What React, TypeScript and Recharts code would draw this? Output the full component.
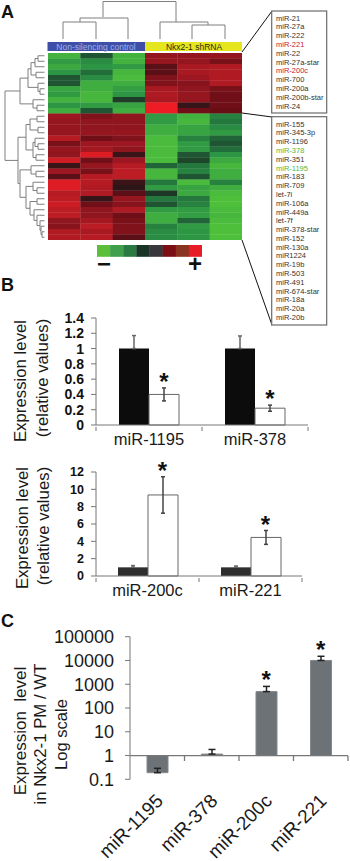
import React from "react";
import { Bar, ComposedChart, ErrorBar, Line, ReferenceLine, Scatter, ScatterChart, XAxis, YAxis } from "recharts";

const FONT = "'Liberation Sans', Arial, sans-serif";

// panel A
const upMirs = ["miR-21", "miR-27a", "miR-222", "miR-221", "miR-22", "miR-27a-star", "miR-200c", "miR-700", "miR-200a", "miR-200b-star", "miR-24"];
const downMirs = ["miR-155", "miR-345-3p", "miR-1196", "miR-378", "miR-351", "miR-1195", "miR-183", "miR-709", "let-7i", "miR-106a", "miR-449a", "let-7f", "miR-378-star", "miR-152", "miR-130a", "miR1224", "miR-19b", "miR-503", "miR-491", "miR-674-star", "miR-18a", "miR-20a", "miR-20b"];
const redMirs = ["miR-221", "miR-200c"];
const greenMirs = ["miR-378", "miR-1195"];

const heatRows = [
  [-0.8, -0.2, -0.8, 0.55, 0.55, 0.55],
  [-0.55, -0.45, -0.8, 0.55, 0.55, 0.35],
  [-0.7, -0.5, -0.55, 0.2, 0.7, 0.75],
  [-0.5, -0.3, -0.85, 0.2, 0.7, 0.75],
  [-0.2, -0.45, -0.9, 0.4, 0.6, 0.75],
  [-0.2, -0.75, -0.75, 0.4, 0.45, 0.75],
  [-0.65, -0.75, -0.6, 0.7, 0.5, 0.35],
  [-0.55, -0.85, -0.5, 0.75, 0.55, 0.3],
  [-0.8, -0.85, -0.12, 0.7, 0.55, 0.3],
  [-0.5, -0.55, -0.65, 1, 0.08, 0.3],
  [-0.75, -0.2, -0.75, 1, 0.3, 0.25],
  [0.6, 0.4, 0.5, -0.55, -0.8, -0.4],
  [0.55, 0.5, 0.5, -0.55, -0.85, -0.35],
  [0.55, 0.5, 0.5, -0.75, -0.65, -0.45],
  [0.55, 0.55, 0.55, -0.75, -0.65, -0.55],
  [0.8, 0.3, 0.4, -0.9, -0.4, -0.25],
  [0.35, 0.6, 0.6, -0.9, -0.55, -0.2],
  [0.55, 0.65, 0.5, -0.9, -0.55, -0.3],
  [0.5, 0.95, 0.1, -0.9, -0.2, -0.5],
  [0.9, 0.3, 0.6, -0.9, -0.15, -0.7],
  [0.1, 0.55, 0.8, -0.25, -0.35, -0.85],
  [0.6, 0.35, 0.85, -0.85, -0.4, -0.75],
  [0.2, 0.8, 0.85, -0.85, -0.2, -0.75],
  [0.95, 0.8, 0.1, -0.35, -0.9, -0.4],
  [0.95, 0.75, 0.05, -0.55, -0.65, -0.75],
  [0.8, 0.75, 0.2, -0.1, -0.7, -0.9],
  [0.85, 0.08, 0.55, -0.35, -0.35, -0.95],
  [0.9, 0.3, 0.45, -0.2, -0.4, -0.95],
  [0.85, 0.5, 0.75, -0.55, -0.55, -0.9],
  [0.85, 0.5, 0.3, -0.75, -0.6, -0.85],
  [0.5, 0.65, 0.35, -0.75, -0.25, -0.9],
  [0.45, 0.85, 0.4, -0.4, -0.55, -0.95],
  [0.75, 0.7, 0.4, -0.45, -0.5, -0.95],
  [0.75, 0.8, 0.2, -0.45, -0.5, -0.95],
];
const legendColors = ["#5cbf3a", "#3f9f4a", "#2a7b43", "#1a3528", "#38383c", "#7c0f16", "#8a3320", "#e81c24"];

// panel B, upper
const b1Categories = ["miR-1195", "miR-378"];
const b1Control = [1, 1];
const b1Knockdown = [0.4, 0.22];
const b1ControlErr = [0.17, 0.165];
const b1KnockdownErr = [0.085, 0.04];
const b1Stars = [0.485, 0.26];
const b1Ticks = [0, 0.2, 0.4, 0.6, 0.8, 1, 1.2, 1.4];

// panel B, lower
const b2Categories = ["miR-200c", "miR-221"];
const b2Control = [1, 1];
const b2Knockdown = [9.35, 4.45];
const b2ControlErr = [0.2, 0.15];
const b2KnockdownErr = [2.1, 0.8];
const b2Stars = [11.45, 5.25];
const b2Ticks = [0, 2, 4, 6, 8, 10, 12];

// panel C
const cCategories = ["miR-1195", "miR-378", "miR-200c", "miR-221"];
const cValues = [0.19, 1.15, 490, 10000];
const cErrUp = [0.1, 0.65, 320, 5000];
const cStars = [null, null, 810, 15000];
const cTicks = [0.1, 1, 10, 100, 1000, 10000, 100000];

const heatStops: [number, number[]][] = [
  [-1, [82, 196, 58]],
  [-0.5, [44, 150, 68]],
  [-0.25, [32, 100, 56]],
  [0, [28, 24, 24]],
  [0.25, [106, 14, 22]],
  [0.55, [150, 22, 32]],
  [0.85, [188, 28, 36]],
  [1, [238, 28, 36]],
];

function heatColor(v: number) {
  for (let i = 1; i < heatStops.length; i++) {
    const [v0, c0] = heatStops[i - 1];
    const [v1, c1] = heatStops[i];
    if (v <= v1) {
      const t = (v - v0) / (v1 - v0);
      const c = c0.map((a, k) => Math.round(a + (c1[k] - a) * t));
      return `rgb(${c.join(",")})`;
    }
  }
  return "rgb(238,28,36)";
}

type Node = { x: number; kids: (Node | number)[] };
const n = (x: number, ...kids: (Node | number)[]): Node => ({ x, kids });

// row dendrogram, leaves are heatmap rows
const rowTree = n(5,
  n(20,
    n(28,
      n(31, n(35, n(38, 0, 1), 2), n(36, 3, 4)),
      n(38, 5, n(40, 6, 7))),
    n(33, 8, n(37, 9, 10))),
  n(18,
    n(26,
      n(30, n(37, 11, 12), n(38, 13, 14)),
      n(33, n(35, 15, n(38, 16, 17)), n(36, 18, 19))),
    n(20,
      n(31, 20, n(36, 21, 22)),
      n(26,
        n(33, 23, n(37, 24, 25)),
        n(30, n(37, 26, 27), n(34, 28, n(37, 29, n(40, 30, n(41, 31, n(42, 32, 33))))))))));

function treeLines(node: Node, out: string[]): number {
  const ys = node.kids.map((k) => {
    if (typeof k === "number") {
      const y = 53 + (k + 0.5) * 5.5;
      out.push(`M${node.x} ${y}H44.5`);
      return y;
    }
    const y = treeLines(k, out);
    out.push(`M${node.x} ${y}H${k.x}`);
    return y;
  });
  const lo = Math.min(...ys);
  const hi = Math.max(...ys);
  out.push(`M${node.x} ${lo}V${hi}`);
  return (lo + hi) / 2;
}

const rowPaths: string[] = [];
treeLines(rowTree, rowPaths);

const colPaths = [
  "M103 17V1.5H176V22",
  "M80 22V18H128V39",
  "M63 39V22H96V39",
  "M160 39V22H208V25",
  "M192 39V25H225V39",
];

function HeatGrid({ left, top, width, height, cols, rows, color }: any) {
  const cw = width / cols;
  const ch = height / rows;
  const cells: any[] = [];
  for (let r = 0; r < rows; r++) for (let c = 0; c < cols; c++) cells.push({ col: c + 0.5, row: r + 0.5, fill: color(r, c) });
  return (
    <div style={{ position: "absolute", left, top }}>
      <ScatterChart width={width} height={height} margin={{ top: 0, right: 0, bottom: 0, left: 0 }}>
        <XAxis type="number" dataKey="col" domain={[0, cols]} hide />
        <YAxis type="number" dataKey="row" domain={[0, rows]} reversed hide />
        <Scatter
          data={cells}
          isAnimationActive={false}
          shape={(p: any) => <rect x={p.cx - cw / 2} y={p.cy - ch / 2} width={cw + 0.3} height={ch + 0.3} fill={p.payload.fill} />}
        />
      </ScatterChart>
    </div>
  );
}

const makeRows = (cats: string[], a: number[], b: number[], ae: number[], be: number[], stars: number[]) =>
  cats.map((name, i) => ({ name, control: a[i], knock: b[i], controlErr: [0, ae[i]], knockErr: [be[i], be[i]], star: stars[i] }));

function GroupTick({ x, y, payload, index, band }: any) {
  return (
    <g>
      <line x1={x + band / 2} x2={x + band / 2} y1={y} y2={y + 4} stroke="#777" />
      {index === 0 && <line x1={x - band / 2} x2={x - band / 2} y1={y} y2={y + 4} stroke="#777" />}
      <text x={x} y={y + 18} textAnchor="middle" fontSize={16.5} fill="#1a1a1a" fontFamily={FONT}>{payload.value}</text>
    </g>
  );
}

function RotatedTick({ x, payload, band, axisY }: any) {
  const lx = x + 7;
  const ly = axisY + 46;
  return (
    <g>
      <line x1={x + band / 2} x2={x + band / 2} y1={axisY} y2={axisY + 5} stroke="#777" strokeWidth={1.3} />
      <text x={lx} y={ly} transform={`rotate(-45 ${lx} ${ly})`} textAnchor="end" fontSize={19} fill="#1a1a1a" fontFamily={FONT}>{payload.value}</text>
    </g>
  );
}

function Star({ cx, cy, value, shift }: any) {
  if (value == null || cy == null) return <g />;
  return <text x={cx + shift} y={cy + 2} textAnchor="middle" fontSize={24} fontWeight="bold" fill="#111" fontFamily={FONT}>*</text>;
}

function GroupedChart({ top, height, marginTop, plotRight, rows, ticks, domain, fontSize, band, controlFill }: any) {
  return (
    <div style={{ position: "absolute", left: 0, top }}>
      <ComposedChart width={350} height={height} data={rows} barSize={30} barGap={0} margin={{ top: marginTop, right: 350 - plotRight, bottom: 0, left: 0 }}>
        <XAxis dataKey="name" height={30} tickLine={false} tickSize={0} stroke="#777" interval={0} tick={<GroupTick band={band} />} />
        <YAxis width={96} domain={domain} ticks={ticks} interval={0} stroke="#777" tickSize={5} tickMargin={7} tick={{ fill: "#111", fontSize, fontWeight: "bold", fontFamily: FONT }} />
        <Bar dataKey="control" fill={controlFill} isAnimationActive={false}>
          <ErrorBar dataKey="controlErr" width={2} stroke="#666" isAnimationActive={false} />
        </Bar>
        <Bar dataKey="knock" fill="#fff" stroke="#666" isAnimationActive={false}>
          <ErrorBar dataKey="knockErr" width={2} stroke="#444" isAnimationActive={false} />
        </Bar>
        <Line dataKey="star" stroke="none" isAnimationActive={false} dot={(p: any) => <Star key={p.index} {...p} shift={15} />} />
      </ComposedChart>
    </div>
  );
}

const cRows = cCategories.map((name, i) => ({ name, range: [1, cValues[i]], err: [0, cErrUp[i]], star: cStars[i] }));

function ListBox({ top, height, firstY, names }: any) {
  return (
    <g>
      <rect x={271.7} y={top} width={55} height={height} fill="#fff" stroke="#6b6b6b" strokeWidth={1.2} />
      {names.map((name: string, i: number) => (
        <text key={name} x={276} y={firstY + i * 8.78 + 2.7} fontSize={7.5} fontFamily={FONT}
          fill={redMirs.includes(name) ? "#c8143c" : greenMirs.includes(name) ? "#4fb83c" : "#333"}>{name}</text>
      ))}
    </g>
  );
}

const vText = (label: string, x: number, y: number, size = 16.8) => (
  <text key={label} x={x} y={y} transform={`rotate(-90 ${x} ${y})`} textAnchor="middle" fontSize={size} fill="#1a1a1a" fontFamily={FONT} style={{ whiteSpace: "pre" }}>{label}</text>
);

export default function App() {
  return (
    <div style={{ position: "absolute", left: 0, top: 0, width: 350, height: 861, overflow: "hidden", background: "#fff", fontFamily: FONT }}>
      <HeatGrid left={48} top={53} width={194} height={187} cols={6} rows={heatRows.length} color={(r: number, c: number) => heatColor(heatRows[r][c])} />
      <HeatGrid left={97} top={245} width={105} height={11.5} cols={8} rows={1} color={(_: number, c: number) => legendColors[c]} />

      <GroupedChart top={298} height={157} marginTop={20} plotRight={308} band={106}
        rows={makeRows(b1Categories, b1Control, b1Knockdown, b1ControlErr, b1KnockdownErr, b1Stars)}
        ticks={b1Ticks} domain={[0, 1.4]} fontSize={14} controlFill="#0c0c0c" />
      <GroupedChart top={446} height={160} marginTop={26} plotRight={302} band={103}
        rows={makeRows(b2Categories, b2Control, b2Knockdown, b2ControlErr, b2KnockdownErr, b2Stars)}
        ticks={b2Ticks} domain={[0, 12]} fontSize={12.5} controlFill="#2e2e2e" />

      <div style={{ position: "absolute", left: 0, top: 620 }}>
        <ComposedChart width={350} height={241} data={cRows} barSize={21} margin={{ top: 16.7, right: 2, bottom: 0, left: 0 }}>
          <XAxis dataKey="name" height={81.7} axisLine={false} tickLine={false} tickSize={0} interval={0} tick={<RotatedTick band={54.5} axisY={136} />} />
          <YAxis width={130} scale="log" domain={[0.1, 100000]} ticks={cTicks} interval={0} stroke="#777" tickSize={5} tickMargin={11} tick={{ fill: "#1a1a1a", fontSize: 18, fontFamily: FONT }} />
          <ReferenceLine y={1} stroke="#777" strokeWidth={1.3} />
          <Bar dataKey="range" fill="#6d7277" stroke="#83878b" isAnimationActive={false}>
            <ErrorBar dataKey="err" width={3.5} stroke="#222" isAnimationActive={false} />
          </Bar>
          <Line dataKey="star" stroke="none" connectNulls={false} isAnimationActive={false} dot={(p: any) => <Star key={p.index} {...p} shift={0} />} />
        </ComposedChart>
      </div>

      <svg width={350} height={861} style={{ position: "absolute", left: 0, top: 0, pointerEvents: "none" }}>
        <g fill="none" stroke="#7f7f7f" strokeWidth={1}>
          {colPaths.map((d) => <path key={d} d={d} />)}
          {rowPaths.map((d, i) => <path key={i} d={d} />)}
        </g>
        <rect x={47.5} y={42} width={97.5} height={9} fill="#3f4fa8" />
        <rect x={145} y={42} width={97} height={9} fill="#e6e61e" />
        <text x={96} y={49.5} textAnchor="middle" fontSize={8.5} fill="#9fb0e6" fontFamily={FONT}>Non-silencing control</text>
        <text x={194} y={49.8} textAnchor="middle" fontSize={8.5} fill="#2c2c10" fontFamily={FONT}>Nkx2-1 shRNA</text>

        <g stroke="#111" strokeWidth={1} fill="none">
          <path d="M242 52L272 11" />
          <path d="M242 113L272 117" />
          <path d="M242 240L272 325" />
        </g>
        <ListBox top={11} height={102} firstY={18} names={upMirs} />
        <ListBox top={116.7} height={208.3} firstY={124} names={downMirs} />

        <text x={97} y={272} fontSize={24} fontWeight="bold" fill="#111" fontFamily={FONT}>−</text>
        <text x={195} y={272} textAnchor="middle" fontSize={24} fontWeight="bold" fill="#111" fontFamily={FONT}>+</text>

        <text x={1} y={18} fontSize={18} fontWeight="bold" fill="#111" fontFamily={FONT}>A</text>
        <text x={1} y={291} fontSize={18} fontWeight="bold" fill="#111" fontFamily={FONT}>B</text>
        <text x={1} y={627} fontSize={18} fontWeight="bold" fill="#111" fontFamily={FONT}>C</text>

        {vText("Expression level", 26, 381)}
        {vText("(relative values)", 48, 378)}
        {vText("Expression level", 28, 528)}
        {vText("(relative values)", 49, 526)}
        {vText("Expression  level", 26, 731, 17)}
        {vText("in Nkx2-1 PM / WT", 46, 734)}
        {vText("Log scale", 67, 734.5, 16.6)}
      </svg>
    </div>
  );
}
